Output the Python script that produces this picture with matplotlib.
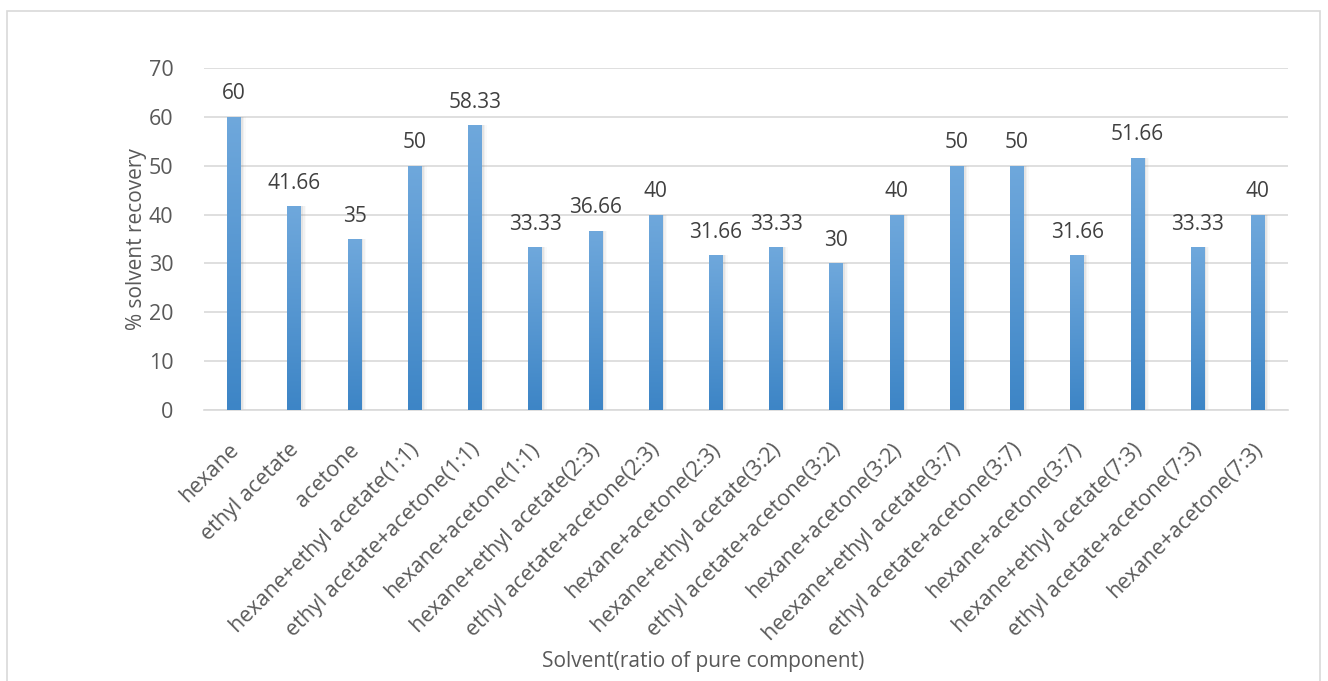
import numpy as np
import matplotlib.pyplot as plt
import matplotlib.transforms as mtransforms
from matplotlib.colors import LinearSegmentedColormap
from matplotlib.patches import Rectangle

solvents = [
    "hexane", "ethyl acetate", "acetone",
    "hexane+ethyl acetate(1:1)", "ethyl acetate+acetone(1:1)", "hexane+acetone(1:1)",
    "hexane+ethyl acetate(2:3)", "ethyl acetate+acetone(2:3)", "hexane+acetone(2:3)",
    "hexane+ethyl acetate(3:2)", "ethyl acetate+acetone(3:2)", "hexane+acetone(3:2)",
    "heexane+ethyl acetate(3:7)", "ethyl acetate+acetone(3:7)", "hexane+acetone(3:7)",
    "hexane+ethyl acetate(7:3)", "ethyl acetate+acetone(7:3)", "hexane+acetone(7:3)",
]
recovery = [60, 41.66, 35, 50, 58.33, 33.33, 36.66, 40, 31.66, 33.33, 30, 40,
            50, 50, 31.66, 51.66, 33.33, 40]
value_labels = ["60", "41.66", "35", "50", "58.33", "33.33", "36.66", "40", "31.66",
                "33.33", "30", "40", "50", "50", "31.66", "51.66", "33.33", "40"]

plt.rcParams['font.family'] = ['Open Sans', 'DejaVu Sans']
txt = '#595959'
fs = 15

fig = plt.figure(figsize=(13.28, 6.81), dpi=100)
ax = fig.add_axes([204/1328, 1 - 410/681, 1084/1328, 342/681])

# outer chart border
fig.patches.append(Rectangle((7/1328, -0.01), 1313/1328, 1 - 11/681 + 0.01,
                             transform=fig.transFigure, fill=False,
                             edgecolor='#d9d9d9', linewidth=1.2))

x = np.arange(len(solvents))
w = 0.23
cmap = LinearSegmentedColormap.from_list('blu', ['#3d85c6', '#6fa8dc'])
grad = np.linspace(0, 1, 256).reshape(-1, 1)

for xi, v, lab in zip(x, recovery, value_labels):
    # soft shadow
    for k, a in enumerate([0.10, 0.07, 0.04]):
        ax.bar(xi + 0.03 + k * 0.025, v, w, color='#808080', alpha=a, zorder=1,
               linewidth=0)
    b = ax.bar(xi, v, w, color='none', zorder=2, linewidth=0)[0]
    im = ax.imshow(grad, cmap=cmap, aspect='auto', origin='lower',
                   extent=[xi - w / 2, xi + w / 2, 0, v], zorder=3)
    im.set_clip_path(b)
    ax.text(xi, v + 4.7, lab, ha='center', va='center', fontsize=fs, color='#404040')

ax.set_xlim(-0.5, len(solvents) - 0.5)
ax.set_ylim(0, 70)
ax.set_yticks(range(0, 71, 10))
ax.yaxis.grid(True, color='#d9d9d9', linewidth=1.2)
ax.set_axisbelow(True)
for s in ['top', 'right', 'left']:
    ax.spines[s].set_visible(False)
ax.spines['bottom'].set_color('#d9d9d9')
ax.spines['bottom'].set_linewidth(1.2)
ax.tick_params(axis='both', length=0, colors=txt, labelsize=15.5)
ax.tick_params(axis='y', pad=22)
ax.set_xticks(x)
ax.set_xticklabels(solvents, rotation=45, ha='right', va='top',
                   rotation_mode='anchor')
ax.tick_params(axis='x', pad=19)
# nudge the slanted labels left a little
shift = mtransforms.ScaledTranslation(-6/100, -3/100, fig.dpi_scale_trans)
for t in ax.get_xticklabels():
    t.set_transform(t.get_transform() + shift)

ax.set_ylabel('% solvent recovery', fontsize=fs, color=txt)
ax.yaxis.set_label_coords(-57/1084, 0.5)
fig.text(703/1328, 1 - 661/681, 'Solvent(ratio of pure component)', ha='center',
         va='center', fontsize=fs, color=txt)

fig.savefig('out.png', dpi=100)
